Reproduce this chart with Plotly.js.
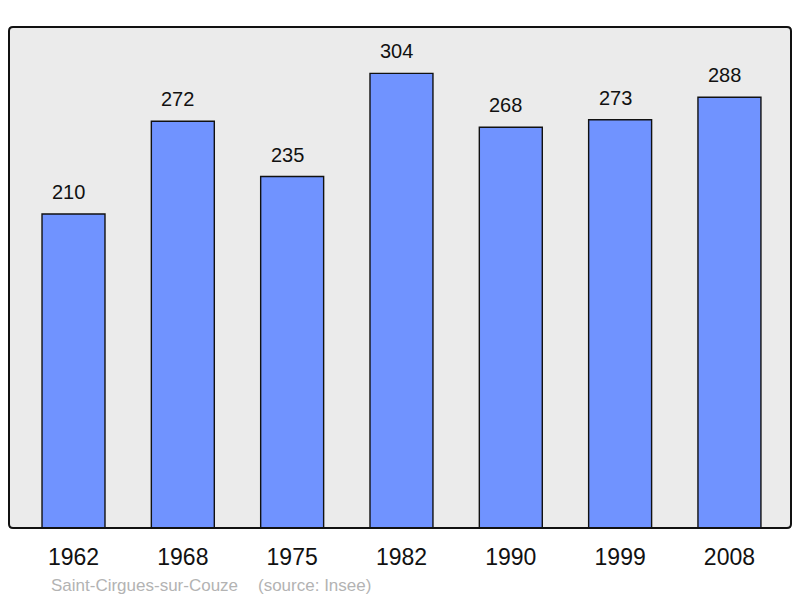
<!DOCTYPE html>
<html><head><meta charset="utf-8">
<script src="https://cdn.plot.ly/plotly-3.0.1.min.js"></script>
<style>html,body{margin:0;padding:0;background:#fff}</style>
</head><body>
<div id="chart" style="width:800px;height:598px"></div>
<script>
const years = ["1962","1968","1975","1982","1990","1999","2008"];
const population = [210, 272, 235, 304, 268, 273, 288];
const commune = "Saint-Cirgues-sur-Couze";
const source = "(source: Insee)";

const W = 800, H = 598;
const L = 9, R = 9, T = 27, B = 70;
const pw = W - L - R, ph = H - T - B;
const rx = 4 / pw, ry = 4 / ph;
const border = `M ${rx} 0 L ${1-rx} 0 Q 1 0 1 ${ry} L 1 ${1-ry} Q 1 1 ${1-rx} 1 L ${rx} 1 Q 0 1 0 ${1-ry} L 0 ${ry} Q 0 0 ${rx} 0 Z`;
const FONT = 'Liberation Sans, Arial, sans-serif';

const trace = {
  type: 'bar', x: years, y: population, width: 0.576,
  marker: {color: '#7093ff', line: {color: '#111', width: 1.4}},
  hoverinfo: 'none'
};

const annotations = years.map((yr, i) => ({
  x: i, y: population[i], xref: 'x', yref: 'y',
  text: String(population[i]), showarrow: false,
  yanchor: 'bottom', yshift: 9, xshift: -5,
  font: {family: FONT, size: 20, color: '#111'}
}));
const footY = -(585 - T - ph) / ph;
annotations.push({
  xref: 'paper', yref: 'paper', x: (49 - L) / pw, y: footY,
  xanchor: 'left', yanchor: 'middle', showarrow: false, text: commune,
  font: {family: FONT, size: 17, color: '#b3b3b3'}
});
annotations.push({
  xref: 'paper', yref: 'paper', x: (256 - L) / pw, y: footY,
  xanchor: 'left', yanchor: 'middle', showarrow: false, text: source,
  font: {family: FONT, size: 17, color: '#b3b3b3'}
});

const layout = {
  width: W, height: H,
  margin: {l: L, r: R, t: T, b: B, pad: 0},
  paper_bgcolor: '#ffffff', plot_bgcolor: '#ebebeb',
  showlegend: false,
  xaxis: {type: 'category', range: [-0.59, 6.563], showgrid: false, zeroline: false,
          showline: false, ticks: '', ticklabelstandoff: 13,
          tickfont: {family: FONT, size: 23, color: '#111'}},
  yaxis: {range: [0, 335], showgrid: false, zeroline: false, showline: false,
          showticklabels: false, ticks: ''},
  shapes: [{type: 'path', xref: 'paper', yref: 'paper', path: border,
            line: {color: '#111', width: 2}, fillcolor: 'rgba(0,0,0,0)', layer: 'above'}],
  annotations: annotations
};

Plotly.newPlot('chart', [trace], layout, {displayModeBar: false, staticPlot: true});
</script>
</body></html>
